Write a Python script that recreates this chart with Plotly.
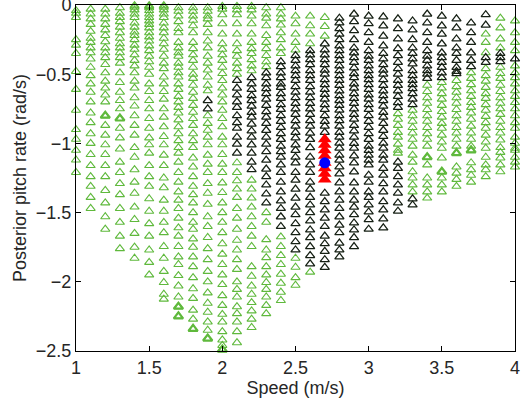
import plotly.graph_objects as go

speeds = [1.0, 1.1, 1.2, 1.3, 1.4, 1.5, 1.6, 1.7, 1.8, 1.9, 2.0, 2.1, 2.2, 2.3, 2.4, 2.5,
          2.6, 2.7, 2.8, 2.9, 3.0, 3.1, 3.2, 3.3, 3.4, 3.5, 3.6, 3.7, 3.8, 3.9, 4.0]

green_pitch = [
    [-0.04, -0.06, -0.09, -0.25, -0.29, -0.35, -0.48, -0.61, -0.76, -0.90, -0.97, -1.05, -1.12, -1.21],
    [-0.03, -0.065, -0.10, -0.14, -0.19, -0.24, -0.27, -0.31, -0.345, -0.39, -0.45, -0.51, -0.57, -0.63, -0.70, -0.78, -0.85, -0.93, -1.00, -1.08, -1.16, -1.24, -1.31, -1.39, -1.47],
    [-0.03, -0.065, -0.10, -0.14, -0.18, -0.22, -0.265, -0.31, -0.345, -0.38, -0.43, -0.49, -0.55, -0.60, -0.65, -0.70, -0.80, -0.87, -0.94, -1.01, -1.08, -1.16, -1.24, -1.34, -1.43, -1.53, -1.62],
    [-0.02, -0.06, -0.09, -0.12, -0.16, -0.20, -0.24, -0.28, -0.31, -0.345, -0.38, -0.42, -0.49, -0.56, -0.63, -0.69, -0.75, -0.82, -0.89, -0.96, -1.04, -1.135, -1.21, -1.29, -1.37, -1.47, -1.57, -1.67, -1.76],
    [-0.005, -0.015, -0.035, -0.065, -0.09, -0.13, -0.16, -0.195, -0.22, -0.25, -0.29, -0.32, -0.36, -0.40, -0.44, -0.49, -0.55, -0.60, -0.67, -0.73, -0.80, -0.87, -0.94, -1.03, -1.10, -1.19, -1.28, -1.36, -1.46, -1.55, -1.65, -1.75, -1.83],
    [-0.005, -0.01, -0.02, -0.04, -0.065, -0.09, -0.115, -0.14, -0.165, -0.20, -0.23, -0.26, -0.295, -0.33, -0.37, -0.41, -0.45, -0.50, -0.57, -0.625, -0.69, -0.75, -0.82, -0.89, -0.96, -1.01, -1.07, -1.16, -1.24, -1.31, -1.40, -1.49, -1.58, -1.67, -1.77, -1.86, -1.95],
    [-0.005, -0.015, -0.035, -0.065, -0.09, -0.13, -0.165, -0.20, -0.24, -0.28, -0.32, -0.37, -0.42, -0.46, -0.52, -0.57, -0.625, -0.68, -0.75, -0.81, -0.88, -0.95, -1.01, -1.085, -1.16, -1.25, -1.32, -1.41, -1.49, -1.57, -1.645, -1.745, -1.83, -1.925, -2.005, -2.09, -2.125],
    [-0.02, -0.045, -0.08, -0.12, -0.17, -0.20, -0.27, -0.31, -0.345, -0.37, -0.42, -0.45, -0.49, -0.52, -0.57, -0.61, -0.66, -0.70, -0.74, -0.78, -0.83, -0.88, -0.93, -0.98, -1.03, -1.07, -1.135, -1.21, -1.28, -1.35, -1.41, -1.47, -1.54, -1.61, -1.67, -1.745, -1.82, -1.875, -1.955, -2.03, -2.11, -2.18, -2.25],
    [-0.02, -0.045, -0.08, -0.11, -0.15, -0.20, -0.27, -0.315, -0.36, -0.40, -0.45, -0.50, -0.53, -0.58, -0.63, -0.675, -0.725, -0.775, -0.82, -0.87, -0.93, -0.98, -1.03, -1.105, -1.17, -1.24, -1.31, -1.37, -1.43, -1.50, -1.57, -1.62, -1.69, -1.75, -1.82, -1.89, -1.97, -2.05, -2.12, -2.205, -2.27, -2.34],
    [-0.02, -0.045, -0.08, -0.10, -0.14, -0.20, -0.26, -0.31, -0.37, -0.42, -0.47, -0.52, -0.58, -0.62, -0.80, -0.855, -0.905, -0.955, -1.01, -1.085, -1.15, -1.21, -1.29, -1.36, -1.44, -1.53, -1.60, -1.68, -1.76, -1.84, -1.925, -2.00, -2.08, -2.155, -2.22, -2.29, -2.35, -2.41],
    [-0.01, -0.03, -0.07, -0.135, -0.21, -0.28, -0.32, -0.36, -0.40, -0.45, -0.495, -0.545, -0.60, -0.65, -0.70, -0.76, -0.82, -0.88, -0.955, -1.01, -1.08, -1.15, -1.21, -1.285, -1.355, -1.43, -1.50, -1.57, -1.645, -1.725, -1.80, -1.875, -1.95, -2.02, -2.10, -2.17, -2.235, -2.29, -2.36, -2.42, -2.46, -2.49],
    [-0.01, -0.035, -0.07, -0.135, -0.21, -0.28, -0.33, -0.37, -0.42, -0.46, -0.50, -1.14, -1.21, -1.27, -1.33, -1.39, -1.47, -1.54, -1.62, -1.70, -1.77, -1.84, -1.91, -2.00, -2.055, -2.11, -2.18, -2.23, -2.29, -2.36, -2.44],
    [-0.01, -0.035, -0.08, -0.135, -0.21, -0.27, -0.315, -0.35, -0.395, -0.44, -0.475, -1.265, -1.33, -1.395, -1.46, -1.53, -1.60, -1.67, -1.745, -1.89, -1.96, -2.03, -2.09, -2.15, -2.21, -2.27, -2.33],
    [-0.02, -0.065, -0.095, -0.15, -0.22, -0.27, -0.315, -0.365, -0.41, -0.445, -1.50, -1.57, -1.695, -1.77, -1.825, -1.89, -1.95, -2.005, -2.055, -2.11, -2.17, -2.23],
    [-0.02, -0.065, -0.10, -0.145, -0.20, -0.25, -0.31, -0.35, -1.675, -1.745, -1.81, -1.875, -1.945, -2.01, -2.075, -2.135],
    [-0.08, -0.135, -0.21, -0.27, -0.325, -1.83, -1.895, -1.97, -2.025],
    [-0.08, -0.15, -0.21, -0.28, -1.93],
    [-0.09, -0.155, -0.225],
    [],
    [],
    [],
    [],
    [-0.785, -0.825, -0.87, -0.92, -0.955, -1.005, -1.05, -1.07],
    [-0.76, -0.80, -0.84, -0.885, -0.925, -0.97, -1.02, -1.085, -1.135, -1.205, -1.25, -1.30, -1.35],
    [-0.58, -0.625, -0.67, -0.71, -0.755, -0.80, -0.84, -0.885, -0.93, -0.97, -1.02, -1.10, -1.155, -1.25, -1.30, -1.35, -1.395],
    [-0.56, -0.60, -0.64, -0.68, -0.725, -0.77, -0.81, -0.855, -0.89, -0.94, -0.99, -1.035, -1.105, -1.205, -1.25, -1.30, -1.35],
    [-0.545, -0.59, -0.63, -0.67, -0.71, -0.755, -0.80, -0.84, -0.885, -0.925, -0.97, -1.02, -1.07, -1.17, -1.215, -1.26, -1.31],
    [-0.49, -0.53, -0.575, -0.62, -0.66, -0.705, -0.74, -0.78, -0.825, -0.875, -0.925, -0.97, -1.02, -1.05, -1.14, -1.19, -1.23, -1.28],
    [-0.21, -0.27, -0.345, -0.46, -0.51, -0.55, -0.595, -0.64, -0.675, -0.72, -0.76, -0.805, -0.85, -0.89, -0.94, -0.99, -1.035, -1.10, -1.155, -1.19, -1.24],
    [-0.095, -0.165, -0.245, -0.31, -0.45, -0.495, -0.53, -0.58, -0.625, -0.67, -0.71, -0.75, -0.79, -0.84, -0.885, -0.925, -0.975, -1.03, -1.065, -1.105, -1.155, -1.205],
    [-0.115, -0.20, -0.27, -0.33, -0.44, -0.49, -0.525, -0.57, -0.62, -0.66, -0.705, -0.75, -0.80, -0.85, -0.89, -0.955, -0.999, -1.035, -1.05, -1.10, -1.135, -1.17],
]

black_pitch = [
    [], [], [], [], [], [], [], [], [],
    [-0.69, -0.75],
    [],
    [-0.545, -0.60, -0.65, -0.70, -0.74, -0.80, -0.85, -0.89, -0.955, -1.005, -1.07],
    [-0.525, -0.57, -0.61, -0.655, -0.69, -0.73, -0.775, -0.81, -0.86, -0.91, -0.955, -1.01, -1.07, -1.135, -1.19],
    [-0.49, -0.525, -0.57, -0.605, -0.64, -0.68, -0.725, -0.77, -0.81, -0.855, -0.905, -0.955, -1.005, -1.06, -1.12, -1.185, -1.24, -1.30, -1.365, -1.43],
    [-0.41, -0.445, -0.49, -0.525, -0.57, -0.595, -0.64, -0.675, -0.72, -0.755, -0.80, -0.84, -0.885, -0.93, -0.97, -1.02, -1.06, -1.10, -1.155, -1.21, -1.28, -1.35, -1.415, -1.47, -1.53, -1.60],
    [-0.365, -0.40, -0.44, -0.475, -0.51, -0.545, -0.59, -0.63, -0.67, -0.71, -0.75, -0.79, -0.835, -0.875, -0.92, -0.96, -1.01, -1.05, -1.10, -1.14, -1.21, -1.265, -1.33, -1.395, -1.46, -1.515, -1.58, -1.645, -1.71, -1.77],
    [-0.33, -0.36, -0.395, -0.43, -0.475, -0.51, -0.545, -0.59, -0.63, -0.67, -0.71, -0.75, -0.79, -0.835, -0.875, -0.925, -0.97, -1.03, -1.10, -1.155, -1.21, -1.28, -1.33, -1.39, -1.445, -1.50, -1.56, -1.625, -1.68, -1.745, -1.81, -1.87],
    [-0.28, -0.325, -0.36, -0.395, -0.43, -0.47, -0.50, -0.54, -0.575, -0.61, -0.645, -0.68, -0.72, -0.755, -0.80, -0.84, -0.875, -0.92, -1.36, -1.42, -1.48, -1.54, -1.60, -1.67, -1.725, -1.78, -1.84, -1.895],
    [-0.095, -0.13, -0.17, -0.21, -0.25, -0.295, -0.33, -0.365, -0.40, -0.44, -0.475, -0.51, -0.545, -0.58, -0.62, -0.655, -0.69, -0.725, -0.76, -0.80, -0.835, -0.875, -0.92, -0.955, -0.998, -1.035, -1.085, -1.12, -1.17, -1.22, -1.285, -1.35, -1.41, -1.47, -1.53, -1.59, -1.645, -1.72, -1.77, -1.82],
    [-0.065, -0.12, -0.185, -0.25, -0.31, -0.345, -0.38, -0.415, -0.455, -0.495, -0.525, -0.57, -0.60, -0.64, -0.675, -0.71, -0.75, -0.79, -0.825, -0.87, -0.91, -0.955, -0.999, -1.035, -1.09, -1.14, -1.205, -1.285, -1.35, -1.41, -1.46, -1.515, -1.575, -1.625, -1.68, -1.745],
    [-0.08, -0.135, -0.20, -0.27, -0.33, -0.37, -0.40, -0.44, -0.475, -0.51, -0.54, -0.575, -0.61, -0.65, -0.68, -0.72, -0.755, -0.80, -0.84, -0.885, -0.93, -0.97, -1.02, -1.05, -1.085, -1.12, -1.155, -1.23, -1.28, -1.35, -1.39, -1.445, -1.495, -1.55, -1.62],
    [-0.085, -0.15, -0.225, -0.295, -0.35, -0.39, -0.43, -0.47, -0.50, -0.54, -0.58, -0.62, -0.655, -0.69, -0.73, -0.775, -0.81, -0.855, -0.905, -0.95, -0.998, -1.035, -1.085, -1.12, -1.18, -1.23, -1.29, -1.35, -1.42, -1.48, -1.545, -1.61],
    [-0.10, -0.17, -0.245, -0.315, -0.365, -0.415, -0.46, -0.50, -0.545, -0.58, -0.62, -0.66, -0.705, -0.74, -1.135, -1.18, -1.24, -1.30, -1.36, -1.43, -1.49],
    [-0.115, -0.18, -0.25, -0.31, -0.35, -0.39, -0.425, -0.475, -0.51, -0.545, -0.575, -0.605, -0.64, -0.68, -0.72, -1.40, -1.445],
    [-0.065, -0.13, -0.20, -0.27, -0.33, -0.37, -0.40, -0.44, -0.475, -0.50, -0.53],
    [-0.08, -0.15, -0.21, -0.28, -0.345, -0.38, -0.415, -0.45, -0.49, -0.525],
    [-0.10, -0.165, -0.245, -0.31, -0.35, -0.40, -0.45, -0.48, -0.495],
    [-0.13, -0.20, -0.27, -0.345, -0.40, -0.445],
    [-0.07, -0.145, -0.38, -0.415],
    [-0.35, -0.38, -0.41],
    [-0.39],
]

# overlapping (bold-looking) green points
bold_speed = [1.2, 1.3, 1.7, 1.7, 1.8, 1.9, 2.0, 3.4, 3.5, 3.6, 3.7]
bold_pitch = [-0.80, -0.82, -2.18, -2.25, -2.34, -2.41, -2.49, -1.10, -1.205, -1.07, -1.05]

red_speed = [2.7, 2.7, 2.7, 2.7, 2.7, 2.7, 2.7, 2.7]
red_pitch = [-0.97, -1.01, -1.05, -1.09, -1.14, -1.18, -1.22, -1.26]

blue_speed = [2.7]
blue_pitch = [-1.14]

x_ticks = [1, 1.5, 2, 2.5, 3, 3.5, 4]
y_ticks = [0, -0.5, -1, -1.5, -2, -2.5]

GREEN = "rgb(95,185,60)"
DARK = "rgb(22,32,20)"


def flatten(pitch_lists):
    xs, ys = [], []
    for s, vals in zip(speeds, pitch_lists):
        for v in vals:
            xs.append(s)
            ys.append(v)
    return xs, ys


gx, gy = flatten(green_pitch)
bx, by = flatten(black_pitch)

fig = go.Figure()
fig.add_trace(go.Scatter(x=gx, y=gy, mode="markers", cliponaxis=False,
                         marker=dict(symbol="triangle-up-open", size=8,
                                     color=GREEN, line=dict(width=1.1, color=GREEN))))
fig.add_trace(go.Scatter(x=bold_speed, y=bold_pitch, mode="markers", cliponaxis=False,
                         marker=dict(symbol="triangle-up-open", size=8,
                                     color=GREEN, line=dict(width=2.2, color=GREEN))))
fig.add_trace(go.Scatter(x=bx, y=by, mode="markers", cliponaxis=False,
                         marker=dict(symbol="triangle-up-open", size=8,
                                     color=DARK, line=dict(width=1.25, color=DARK))))
fig.add_trace(go.Scatter(x=red_speed, y=red_pitch, mode="markers", cliponaxis=False,
                         marker=dict(symbol="triangle-up", size=12, color="rgb(255,0,0)",
                                     line=dict(width=0))))
fig.add_trace(go.Scatter(x=blue_speed, y=blue_pitch, mode="markers", cliponaxis=False,
                         marker=dict(symbol="circle", size=11, color="rgb(0,0,255)",
                                     line=dict(width=0))))

axis_font = dict(family="Liberation Sans, Arial, Helvetica, sans-serif", size=18, color="#262626")

fig.update_layout(
    width=522, height=400,
    margin=dict(l=76, r=7, t=5, b=49),
    paper_bgcolor="white", plot_bgcolor="white",
    showlegend=False,
    font=axis_font,
    xaxis=dict(range=[1, 4], tickvals=x_ticks, ticktext=[f"{t:g}" for t in x_ticks],
               automargin=False, ticklabeloverflow="allow",
               showgrid=False, zeroline=False, showline=True, linecolor="black",
               linewidth=1, mirror="ticks", ticks="inside", ticklen=5, tickcolor="black",
               title=dict(text="Speed (m/s)", standoff=0, font=axis_font),
               tickfont=axis_font),
    yaxis=dict(range=[-2.5, 0], tickvals=y_ticks,
               automargin=False, ticklabeloverflow="allow",
               showgrid=False, zeroline=False, showline=True, linecolor="black",
               linewidth=1, mirror="ticks", ticks="inside", ticklen=5, tickcolor="black",
               title=dict(text="Posterior pitch rate (rad/s)", standoff=4, font=axis_font),
               tickfont=axis_font),
)

fig.write_html("out.html", config={"displayModeBar": False},
               post_script="document.body.style.margin='0';document.body.style.overflow='hidden';")
